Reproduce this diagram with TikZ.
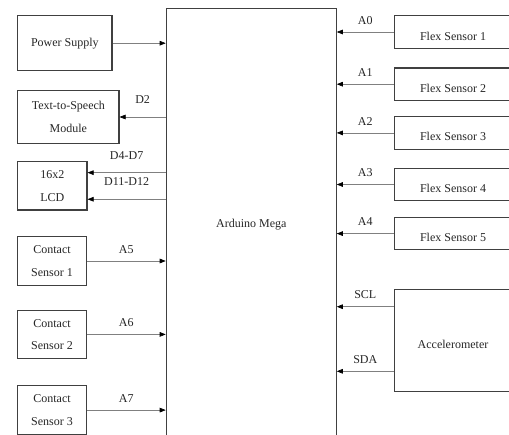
\documentclass[tikz,border=0pt]{standalone}
\usepackage{fontspec}
\setmainfont{Liberation Serif}
\usetikzlibrary{arrows.meta}
\begin{document}
\begin{tikzpicture}[x=1pt,y=1pt]
\tikzstyle{every node}+=[font=\fontsize{12}{22.5}\selectfont, text=black!85]
\tikzstyle{box}=[draw=black!75, line width=1.1pt, rectangle, align=center, inner sep=0pt]
\tikzstyle{lowtext}=[text height=16pt, text depth=0pt]
\tikzstyle{wire}=[draw=black!50, line width=0.6pt, -{Triangle[length=6pt,width=4.6pt,color=black]}]
\tikzstyle{sig}=[inner sep=0pt, above=7.5pt]
\useasboundingbox (0,0) rectangle (509,-434);
\clip (0,0) rectangle (509,-434);
\node[box, minimum width=170pt, minimum height=432.6pt, anchor=north west] (mega) at (165.7,-8) {Arduino Mega};
\node[box, minimum width=94.3pt, minimum height=55pt] (power) at (64.85,-43.2) {Power Supply};
\node[box, minimum width=101.3pt, minimum height=52.6pt] (tts) at (68.35,-117) {Text-to-Speech\\Module};
\node[box, minimum width=69.3pt, minimum height=48.3pt] (lcd) at (52.35,-185.85) {16x2\\LCD};
\node[box, lowtext, minimum width=117.4pt, minimum height=102.3pt] (accel) at (453,-340.2) {Accelerometer};
\draw[wire] (power.east) -- (power.east -| mega.west);
\draw[wire] (tts.east -| mega.west) -- node[sig, above=6pt] {D2} (tts.east);
\coordinate (lcdup) at ([yshift=13.2pt]lcd.east);
\coordinate (lcddown) at ([yshift=-13.4pt]lcd.east);
\draw[wire] (lcdup -| mega.west) -- node[sig, above=5.5pt] {D4-D7} (lcdup);
\draw[wire] (lcddown -| mega.west) -- node[sig, above=5.5pt] {D11-D12} (lcddown);
\foreach \i/\y/\pinname in {1/-261/A5,2/-334.4/A6,3/-410.1/A7}{
  \node[box, minimum width=68.6pt, minimum height=48.6pt] (contact\i) at (52,\y) {Contact\\Sensor \i};
  \draw[wire] (contact\i.east) -- node[sig] {\pinname} (contact\i.east -| mega.west);
}
\foreach \i/\y/\pinname in {1/-32/A0,2/-84.2/A1,3/-132.9/A2,4/-184.5/A3,5/-233.6/A4}{
  \node[box, lowtext, minimum width=117.4pt, minimum height=32.5pt] (flex\i) at (453,\y) {Flex Sensor \i};
  \draw[wire] (flex\i.west) -- node[sig] {\pinname} (flex\i.west -| mega.east);
}
\coordinate (scl) at ([yshift=33.5pt]accel.west);
\coordinate (sda) at ([yshift=-31.1pt]accel.west);
\draw[wire] (scl) -- node[sig] {SCL} (scl -| mega.east);
\draw[wire] (sda) -- node[sig] {SDA} (sda -| mega.east);
\end{tikzpicture}
\end{document}
